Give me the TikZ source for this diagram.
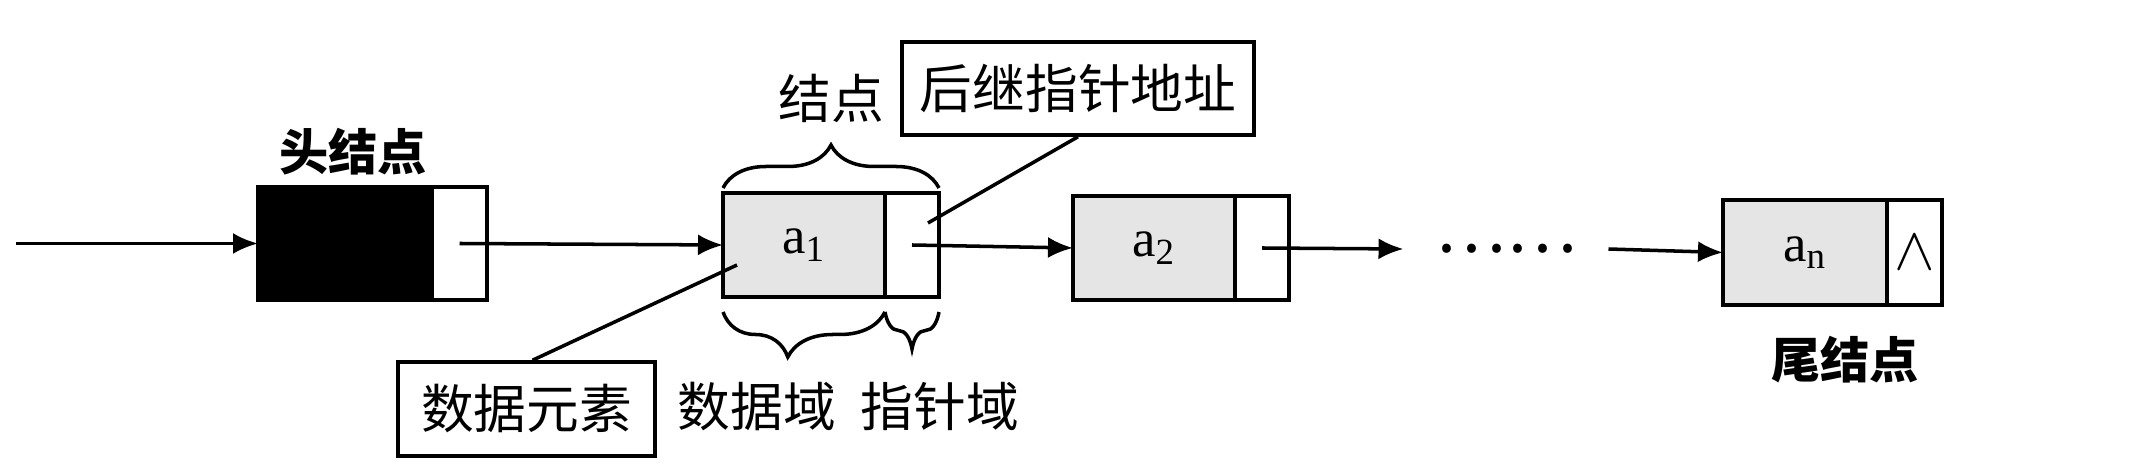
\documentclass[tikz,border=0pt]{standalone}
\usepackage{fontspec}
\setmainfont{Liberation Serif}
\newfontfamily\cjk{Noto Sans CJK SC}
\usepackage{tikz}
\usetikzlibrary{arrows.meta, positioning, decorations.pathreplacing}

\begin{document}
\begin{tikzpicture}[
        line width=1pt,
        datafield/.style={draw, fill=gray!20, minimum width=1.62cm, minimum height=1.04cm, inner sep=0pt, outer sep=0pt, font=\fontsize{15}{18}\selectfont},
        ptrfield/.style={draw, fill=white, minimum width=0.54cm, minimum height=1.04cm, inner sep=0pt, outer sep=0pt, font=\fontsize{17}{20}\selectfont},
        tag/.style={draw, fill=white, minimum height=0.93cm, inner sep=0pt, font=\cjk\fontsize{15}{18}\selectfont},
        cntext/.style={inner sep=0pt, font=\cjk\fontsize{15}{18}\selectfont},
        boldtext/.style={inner sep=0pt, font=\cjk\bfseries\fontsize{14}{17}\selectfont},
        link/.style={-{Latex[length=2.5mm, width=2.1mm]}},
        curly/.style={decorate, decoration={brace, amplitude=#1}}
    ]
        \useasboundingbox (0, 0) rectangle (21.42, 4.74);
        % Head node
        \node [datafield, fill=black, minimum width=1.74cm, minimum height=1.13cm] (h) at (3.45, 2.305) {};
        \node [ptrfield, minimum width=0.55cm, minimum height=1.13cm, right=0pt of h] (hp) {};
        % List nodes
        \node [datafield] (a1) at (8.04, 2.29) {$\mathrm{a}_{\mathrm{1}}$};
        \node [ptrfield, right=0pt of a1] (a1p) {};
        \node [datafield] (a2) at (11.54, 2.26) {$\mathrm{a}_{\mathrm{2}}$};
        \node [ptrfield, right=0pt of a2] (a2p) {};
        \node [datafield, minimum width=1.64cm, minimum height=1.05cm] (an) at (18.05, 2.215) {$\mathrm{a}_{\mathrm{n}}$};
        \node [ptrfield, minimum width=0.55cm, minimum height=1.05cm, right=0pt of an] (anp) {$\wedge$};
        \node [inner xsep=0.3cm, inner ysep=0pt, font=\cjk\fontsize{19}{20}\selectfont] (dots) at (15.06, 2.25) {……};
        % Links
        \coordinate (start) at (0.16, 2.305);
        \draw [link] (start) -- (h.west);
        \draw [link] (hp.center) -- (a1.west);
        \draw [link] (a1p.center) -- (a2.west);
        \draw [link] (a2p.center) -- (dots.west);
        \draw [link] (dots.east) -- (an.west);
        % Braces
        \draw [curly=0.43cm] ([yshift=0.05cm]a1.north west) -- ([yshift=0.05cm]a1p.north east);
        \draw [curly=0.45cm, decoration={aspect=0.6}] ([yshift=-0.15cm]a1.south east) -- ([yshift=-0.15cm]a1.south west);
        \draw [curly=0.37cm] ([yshift=-0.15cm]a1p.south east) -- ([yshift=-0.15cm]a1p.south west);
        % Labels
        \node [boldtext] (headlbl) at (3.53, 3.22) {头结点};
        \node [cntext] (nodelbl) at (8.31, 3.76) {结点};
        \node [tag, minimum width=3.52cm] (succ) at (10.78, 3.855) {后继指针地址};
        \node [tag, minimum width=2.57cm, minimum height=0.94cm] (elem) at (5.265, 0.65) {数据元素};
        \node [cntext] (datalbl) at (7.57, 0.67) {数据域};
        \node [cntext] (ptrlbl) at (9.40, 0.68) {指针域};
        \node [boldtext] (taillbl) at (18.45, 1.14) {尾结点};
        % Callout lines
        \coordinate (succend) at (9.28, 2.51);
        \coordinate (elemend) at (7.37, 2.09);
        \draw (succ.south) -- (succend);
        \draw ([xshift=0.06cm]elem.north) -- (elemend);
    \end{tikzpicture}
\end{document}
